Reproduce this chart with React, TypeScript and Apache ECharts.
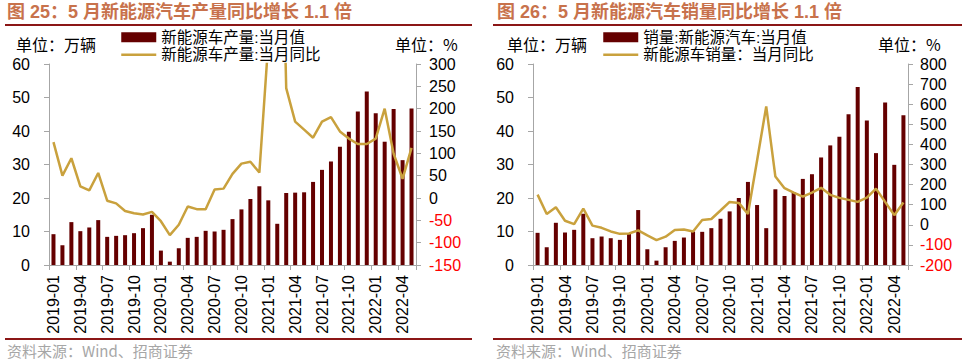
import React, { useEffect, useRef } from "react";
import * as echarts from "echarts";

const months: string[] = [
  "2019-01","2019-02","2019-03","2019-04","2019-05","2019-06","2019-07","2019-08","2019-09","2019-10","2019-11","2019-12",
  "2020-01","2020-02","2020-03","2020-04","2020-05","2020-06","2020-07","2020-08","2020-09","2020-10","2020-11","2020-12",
  "2021-01","2021-02","2021-03","2021-04","2021-05","2021-06","2021-07","2021-08","2021-09","2021-10","2021-11","2021-12",
  "2022-01","2022-02","2022-03","2022-04","2022-05",
];

// 产量 (万辆)
const prodValues: number[] = [
  9.2, 5.9, 12.8, 10.1, 11.2, 13.4, 8.4, 8.7, 8.9, 9.5, 11.0, 15.0,
  4.3, 1.0, 5.0, 8.1, 8.4, 10.2, 10.0, 10.5, 13.7, 16.6, 19.7, 23.5,
  19.3, 12.3, 21.5, 21.6, 21.7, 24.8, 28.4, 30.9, 35.3, 39.8, 45.8, 51.8,
  45.3, 36.8, 46.6, 31.3, 46.7,
];
// 产量同比 (%)
const prodYoY: number[] = [
  125, 50, 89, 26, 17, 56, -6, -12, -29, -34, -37, -31,
  -52, -83, -60, -19, -25, -25, 19, 21, 54, 77, 81, 57,
  349, 1100, 246, 171, 153, 135, 171, 181, 149, 133, 121, 121,
  133, 200, 99, 43, 112,
];
// 销量 (万辆)
const salesValues: number[] = [
  9.6, 5.3, 12.6, 9.7, 10.5, 15.3, 8.0, 8.5, 8.0, 7.5, 9.3, 16.4,
  4.7, 1.3, 5.3, 7.2, 8.2, 10.0, 9.9, 11.0, 13.8, 16.0, 20.0, 24.8,
  17.9, 11.0, 22.6, 20.6, 21.7, 25.7, 27.1, 32.1, 35.7, 38.3, 45.0, 53.1,
  43.1, 33.4, 48.5, 29.9, 44.7,
];
// 销量同比 (%)
const salesYoY: number[] = [
  150, 54, 87, 20, 3, 80, -4, -15, -33, -45, -43, -28,
  -53, -76, -59, -26, -23, -33, 24, 29, 71, 114, 109, 54,
  320, 589, 240, 182, 160, 140, 160, 184, 149, 134, 124, 114,
  135, 180, 114, 48, 111,
];

const titles: string[] = [
  "图 25：5 月新能源汽车产量同比增长 1.1 倍",
  "图 26：5 月新能源汽车销量同比增长 1.1 倍",
];
const seriesNames: string[][] = [
  ["新能源车产量:当月值", "新能源车产量:当月同比"],
  ["销量:新能源汽车:当月值", "新能源车销量：当月同比"],
];
const unitLeft = "单位：万辆";
const unitRight = "单位：%";
const sourceText = "资料来源：Wind、招商证券";

const BAR = "#650000";
const LINE = "#C9A13D";
const AXIS = "#A6A6A6";
const TITLE = "#C8724C";
const RULE = "#8B1616";
const LATIN = "'Liberation Sans', Arial, 'Noto Sans CJK SC', sans-serif";
const CJK = "'Noto Sans CJK SC', 'Liberation Sans', sans-serif";

export default function App() {
  const ref = useRef<HTMLDivElement>(null);

  useEffect(() => {
    if (!ref.current) return;
    const chart = echarts.init(ref.current, undefined, { renderer: "svg" });

    const grids = [
      { left: 49, top: 64, width: 367, height: 201 },
      { left: 533, top: 64, width: 375, height: 201 },
    ];

    const xAxis = [0, 1].map((g) => ({
      type: "category",
      gridIndex: g,
      data: months,
      boundaryGap: true,
      axisLine: { show: true, lineStyle: { color: AXIS, width: 1 } },
      axisTick: { show: true, interval: 2, alignWithLabel: false, length: 5, lineStyle: { color: AXIS } },
      axisLabel: {
        interval: 2,
        rotate: 90,
        margin: 10,
        fontSize: 16,
        color: "#000",
        fontFamily: LATIN,
      },
      splitLine: { show: false },
    }));

    const leftAxis = (g: number, margin: number) => ({
      type: "value",
      gridIndex: g,
      position: "left",
      min: 0,
      max: 60,
      interval: 10,
      axisLine: { show: true, lineStyle: { color: AXIS } },
      axisTick: { show: true, length: 5, lineStyle: { color: AXIS } },
      axisLabel: { fontSize: 16, color: "#000", margin, fontFamily: LATIN },
      splitLine: { show: false },
    });
    const rightAxis = (g: number, min: number, max: number, interval: number, margin: number) => ({
      type: "value",
      gridIndex: g,
      position: "right",
      min,
      max,
      interval,
      axisLine: { show: true, lineStyle: { color: AXIS } },
      axisTick: { show: true, length: 5, lineStyle: { color: AXIS } },
      axisLabel: {
        fontSize: 16,
        margin,
        fontFamily: LATIN,
        color: (v: any) => (Number(v) < 0 ? "#FF0000" : "#000"),
      },
      splitLine: { show: false },
    });

    const yAxis = [
      leftAxis(0, 19),
      rightAxis(0, -150, 300, 50, 13),
      leftAxis(1, 19),
      rightAxis(1, -200, 800, 100, 12),
    ];

    const barSeries = (name: string, data: number[], idx: number) => ({
      name,
      type: "bar",
      xAxisIndex: idx,
      yAxisIndex: idx * 2,
      data,
      barWidth: 4,
      itemStyle: { color: BAR },
      z: 2,
    });
    const lineSeries = (name: string, data: number[], idx: number) => ({
      name,
      type: "line",
      xAxisIndex: idx,
      yAxisIndex: idx * 2 + 1,
      data,
      symbol: "none",
      clip: true,
      lineStyle: { color: LINE, width: 2.5 },
      itemStyle: { color: LINE },
      z: 3,
    });

    const legend = (left: number, names: string[]) => ({
      left,
      top: 29.5,
      orient: "vertical",
      padding: 0,
      itemGap: 2,
      itemWidth: 35,
      itemHeight: 10,
      selectedMode: false,
      textStyle: { fontSize: 15.5, lineHeight: 15, color: "#000", fontFamily: LATIN },
      data: [
        { name: names[0], icon: "rect" },
        {
          name: names[1],
          itemStyle: { color: "rgba(0,0,0,0)", borderColor: "rgba(0,0,0,0)", borderWidth: 0, opacity: 0 },
          lineStyle: { color: LINE, width: 2.5 },
        },
      ],
    });

    const text = (x: number, y: number, t: string, style: any) => ({
      type: "text",
      x,
      y,
      style: { text: t, verticalAlign: "middle", ...style },
    });
    const rule = (x: number, y: number, w: number) => ({
      type: "rect",
      shape: { x, y, width: w, height: 2 },
      style: { fill: RULE },
    });

    const titleStyle = { fill: TITLE, fontSize: 18, fontWeight: "bold", fontFamily: LATIN };
    const unitStyle = { fill: "#000", fontSize: 16, fontFamily: CJK };
    const srcStyle = { fill: "#A6A6A6", fontSize: 15, fontFamily: CJK };

    const graphic = [
      text(7, 12, titles[0], titleStyle),
      text(497, 12, titles[1], titleStyle),
      rule(5, 24, 467),
      rule(493, 24, 469),
      text(16, 44, unitLeft, unitStyle),
      text(395, 44, unitRight, unitStyle),
      text(507, 44, unitLeft, unitStyle),
      text(878, 44, unitRight, unitStyle),
      rule(5, 338, 467),
      rule(493, 338, 469),
      text(7, 350, sourceText, srcStyle),
      text(496, 350, sourceText, srcStyle),
    ];

    chart.setOption({
      animation: false,
      grid: grids,
      xAxis,
      yAxis,
      legend: [legend(120, seriesNames[0]), legend(602, seriesNames[1])],
      series: [
        barSeries(seriesNames[0][0], prodValues, 0),
        lineSeries(seriesNames[0][1], prodYoY, 0),
        barSeries(seriesNames[1][0], salesValues, 1),
        lineSeries(seriesNames[1][1], salesYoY, 1),
      ],
      graphic,
    });

    return () => chart.dispose();
  }, []);

  return (
    <div
      ref={ref}
      style={{ position: "absolute", left: 0, top: 0, width: 967, height: 362, background: "#fff" }}
    />
  );
}
